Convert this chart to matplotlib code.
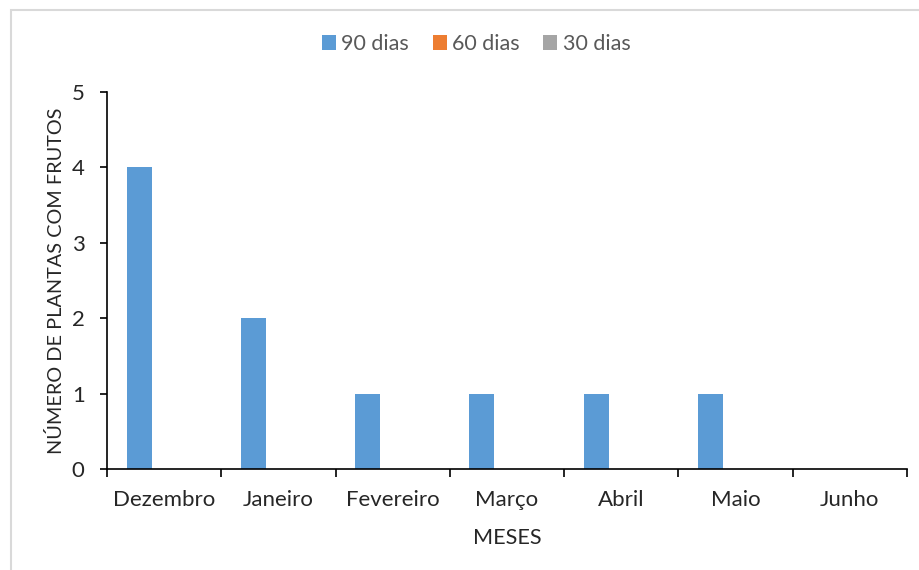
import matplotlib
matplotlib.use("Agg")
import matplotlib.pyplot as plt
from matplotlib.patches import Rectangle
import numpy as np

plt.rcParams['font.family'] = ['Lato', 'DejaVu Sans']

meses = ["Dezembro", "Janeiro", "Fevereiro", "Março", "Abril", "Maio", "Junho"]
series_names = ["90 dias", "60 dias", "30 dias"]
dias_90 = [4, 2, 1, 1, 1, 1, 0]
dias_60 = [0, 0, 0, 0, 0, 0, 0]
dias_30 = [0, 0, 0, 0, 0, 0, 0]
colors = ["#5B9BD5", "#ED7D31", "#A5A5A5"]

fig = plt.figure(figsize=(9.19, 5.70), dpi=100)
ax = fig.add_axes([0.1164, 0.1772, 0.8705, 0.6614])

# outer chart frame
fig.patches.append(Rectangle((11 / 919, -0.05), 1.0, 1 - 10 / 570 + 0.05,
                             transform=fig.transFigure, fill=False,
                             edgecolor="#D9D9D9", linewidth=1.5))

x = np.arange(len(meses))
w = 0.219
handles = []
for i, (vals, name, c) in enumerate(zip([dias_90, dias_60, dias_30], series_names, colors)):
    b = ax.bar(x + (i - 1) * w, vals, width=w, color=c, label=name, zorder=2)
    handles.append(b)

txt = "#262626"
ax.set_xlim(-0.5, len(meses) - 0.5)
ax.set_ylim(0, 5)
ax.set_yticks(range(0, 6))
ax.set_xticks(x)
ax.set_xticklabels(meses)
ax.tick_params(axis='x', length=0, pad=15, labelsize=16, colors=txt)
ax.set_xticks(np.arange(-0.5, len(meses)), minor=True)
ax.tick_params(axis='x', which='minor', length=6, width=1.2, direction='out', color="#000000")
ax.tick_params(axis='y', length=5, width=1.2, direction='out', labelsize=16, color="#000000",
               labelcolor=txt, pad=11)

for s in ['top', 'right']:
    ax.spines[s].set_visible(False)
for s in ['left', 'bottom']:
    ax.spines[s].set_linewidth(1.2)
    ax.spines[s].set_color("#000000")

ax.set_xlabel("MESES", fontsize=15.6, color=txt, labelpad=13)
ax.set_ylabel("NÚMERO DE PLANTAS COM FRUTOS", fontsize=14.3, color=txt, labelpad=5)

fig.legend(handles=handles, labels=series_names, loc='center', bbox_to_anchor=(0.518, 0.923),
           ncol=3, frameon=False, fontsize=15.5, handlelength=0.65, handleheight=0.65,
           handletextpad=0.25, columnspacing=1.1, labelcolor="#595959")

fig.savefig("out.png", dpi=100)
